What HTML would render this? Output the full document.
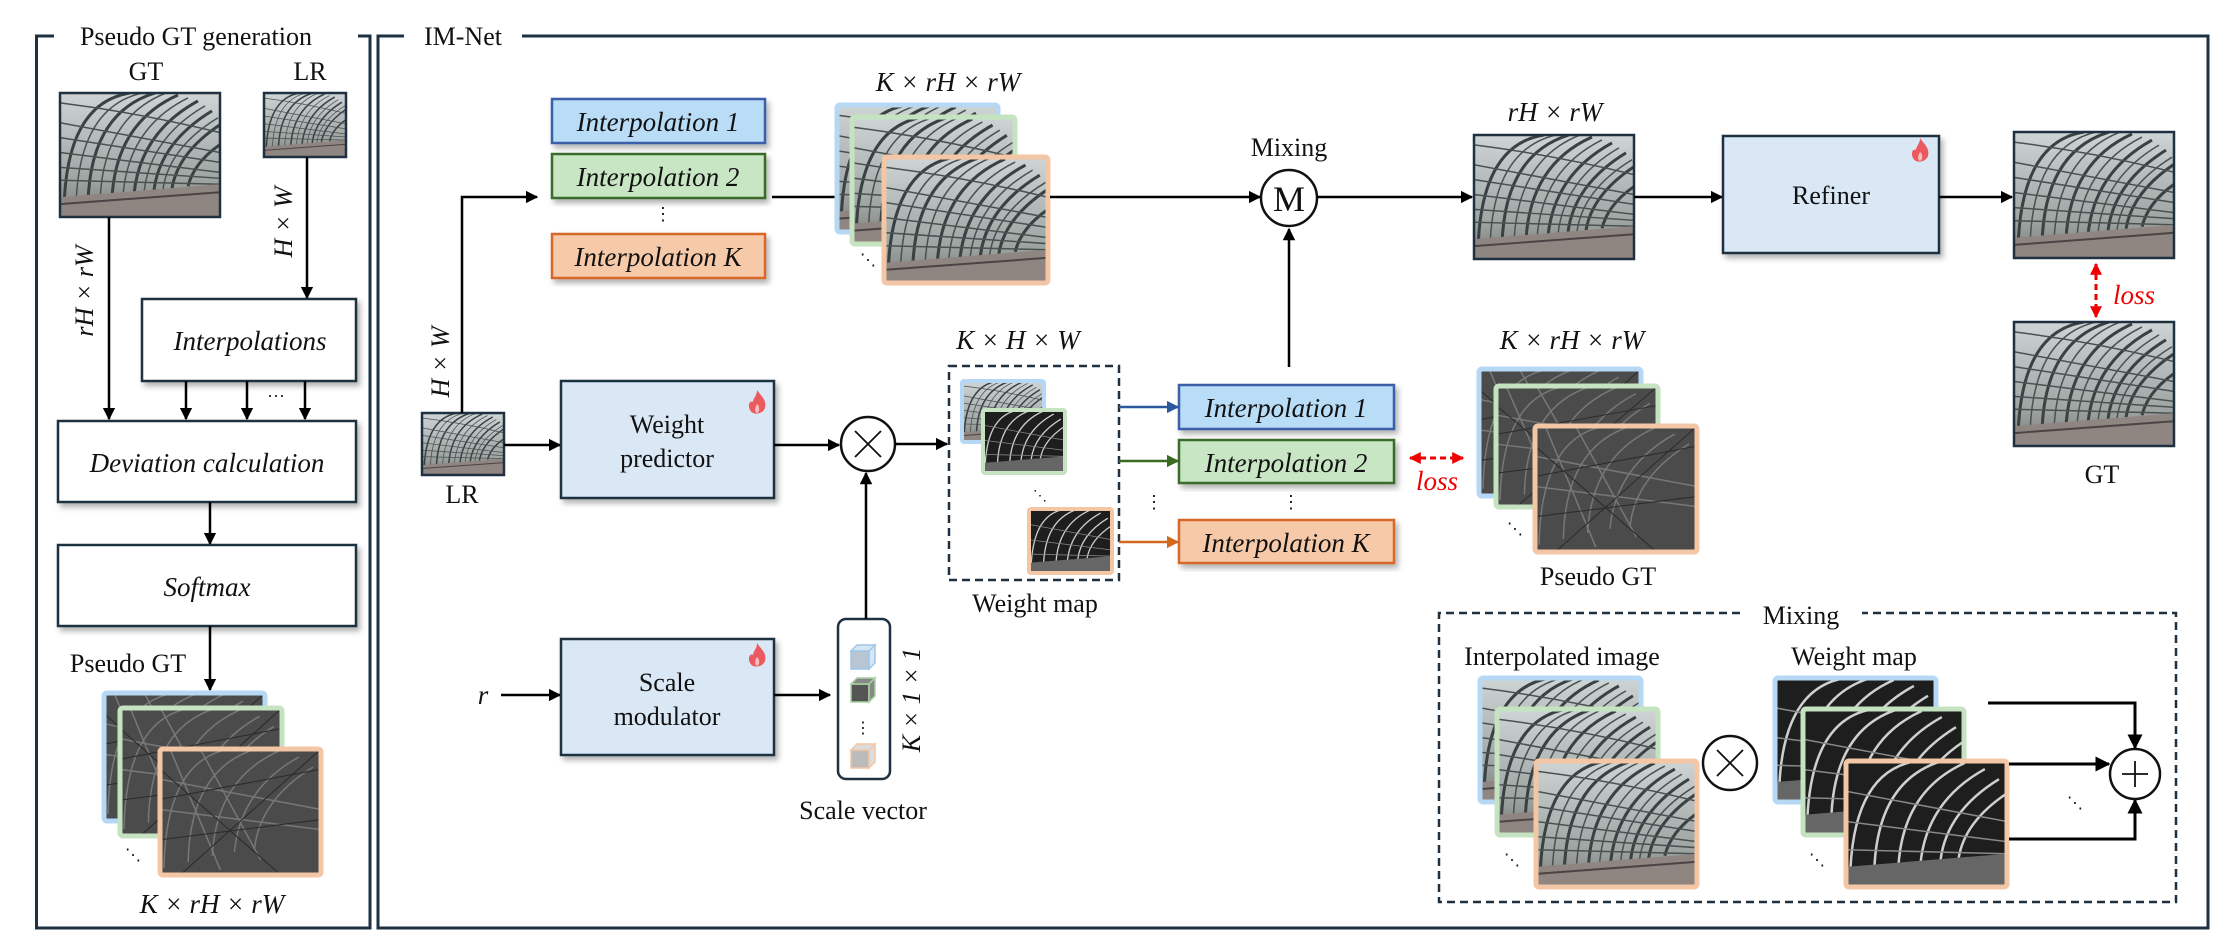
<!DOCTYPE html>
<html><head><meta charset="utf-8"><style>
html,body{margin:0;padding:0;background:#fff}
svg{display:block}
svg text{font-family:"Liberation Serif","Times New Roman","Noto Serif CJK SC",serif;fill:#111}
.it{font-style:italic}
</style></head><body>
<svg width="2225" height="952" viewBox="0 0 2225 952" xmlns="http://www.w3.org/2000/svg">
<defs>
<marker id="ah" viewBox="0 0 10 10" refX="9" refY="5" markerWidth="5" markerHeight="5" orient="auto-start-reverse" markerUnits="strokeWidth"><path d="M0,0 L10,5 L0,10z" fill="#000"/></marker>
<marker id="ahr" viewBox="0 0 10 10" refX="9" refY="5" markerWidth="4" markerHeight="4" orient="auto-start-reverse" markerUnits="strokeWidth"><path d="M0,0 L10,5 L0,10z" fill="#e00"/></marker>
<marker id="ahb" viewBox="0 0 10 10" refX="9" refY="5" markerWidth="5" markerHeight="5" orient="auto" markerUnits="strokeWidth"><path d="M0,0 L10,5 L0,10z" fill="#2d58a0"/></marker>
<marker id="ahg" viewBox="0 0 10 10" refX="9" refY="5" markerWidth="5" markerHeight="5" orient="auto" markerUnits="strokeWidth"><path d="M0,0 L10,5 L0,10z" fill="#3a6b22"/></marker>
<marker id="aho" viewBox="0 0 10 10" refX="9" refY="5" markerWidth="5" markerHeight="5" orient="auto" markerUnits="strokeWidth"><path d="M0,0 L10,5 L0,10z" fill="#d2691e"/></marker>
<linearGradient id="sky" x1="0" y1="0" x2="0" y2="1"><stop offset="0" stop-color="#cfd4d4"/><stop offset="0.7" stop-color="#9ea5a3"/><stop offset="1" stop-color="#7d7b78"/></linearGradient>
<symbol id="photo" viewBox="0 0 160 125" preserveAspectRatio="none">
<rect width="160" height="125" fill="url(#sky)"/>
<g fill="none" stroke="#3a4142" stroke-width="3">
<path d="M4 118 Q6 10 70 0"/><path d="M28 112 Q30 20 95 0"/><path d="M52 106 Q56 30 118 2"/><path d="M74 102 Q80 40 138 8"/><path d="M94 98 Q100 50 152 18"/><path d="M112 96 Q118 60 160 32"/><path d="M128 94 Q134 70 160 52"/>
</g>
<g fill="none" stroke="#4a5151" stroke-width="1.5">
<path d="M16 115 Q18 15 82 0"/><path d="M40 109 Q43 25 106 0"/><path d="M63 104 Q68 35 128 5"/><path d="M84 100 Q90 45 145 13"/><path d="M103 97 Q109 55 158 25"/>
<path d="M0 30 L160 60"/><path d="M0 60 L160 80"/><path d="M0 88 L160 92"/><path d="M0 10 Q80 20 160 40"/><path d="M0 45 L160 70"/><path d="M0 75 L160 86"/>
</g>
<path d="M0 105 L160 92 L160 125 L0 125z" fill="#8f8682"/>
<path d="M0 112 L160 100" stroke="#4a4444" stroke-width="2"/>
</symbol>
<symbol id="pgt" viewBox="0 0 160 125" preserveAspectRatio="none">
<rect width="160" height="125" fill="#4b4b4b"/>
<g fill="none" stroke="#777" stroke-width="1.5">
<path d="M4 118 Q6 10 70 0"/><path d="M28 112 Q30 20 95 0"/><path d="M52 106 Q56 30 118 2"/><path d="M74 102 Q80 40 138 8"/><path d="M94 98 Q100 50 152 18"/><path d="M0 30 L160 60"/><path d="M0 60 L160 80"/><path d="M10 0 L60 120"/><path d="M40 0 L100 110"/>
</g>
<g fill="none" stroke="#2a2a2a" stroke-width="1"><path d="M0 50 L160 20"/><path d="M0 90 L160 70"/><path d="M20 125 L160 0"/><path d="M0 20 L120 125"/></g>
</symbol>
<symbol id="wm" viewBox="0 0 160 125" preserveAspectRatio="none">
<rect width="160" height="125" fill="#1e1e1e"/>
<g fill="none" stroke="#cfcfcf" stroke-width="2.5">
<path d="M4 118 Q6 10 70 0"/><path d="M28 112 Q30 20 95 0"/><path d="M52 106 Q56 30 118 2"/><path d="M74 102 Q80 40 138 8"/><path d="M94 98 Q100 50 152 18"/><path d="M112 96 Q118 60 160 32"/>
</g>
<g fill="none" stroke="#888" stroke-width="1.5"><path d="M0 30 L160 60"/><path d="M0 60 L160 80"/><path d="M0 88 L160 92"/></g>
<path d="M0 105 L160 92 L160 125 L0 125z" fill="#666"/>
</symbol>
<symbol id="flame" viewBox="0 0 20 26"><path d="M10 0 C14 6 20 10 18 18 C16 24 6 26 3 20 C0 14 4 10 6 12 C6 8 10 6 10 0z" fill="#ea5a5f"/><path d="M10 14 C13 16 13 22 10 23 C7 22 8 17 10 14z" fill="#fff" opacity="0.6"/></symbol>
<filter id="sh" x="-10%" y="-10%" width="130%" height="130%"><feDropShadow dx="3" dy="4" stdDeviation="3" flood-color="#000" flood-opacity="0.3"/></filter>
</defs>

<!-- frames -->
<path d="M54 36 L36.5 36 L36.5 928 L370 928 L370 36 L358 36" fill="none" stroke="#1f3140" stroke-width="3"/>
<text x="196" y="45" font-size="26" text-anchor="middle">Pseudo GT generation</text>
<path d="M404 36 L378 36 L378 928 L2208 928 L2208 36 L522 36" fill="none" stroke="#1f3140" stroke-width="3"/>
<text x="463" y="45" font-size="26" text-anchor="middle">IM-Net</text>

<!-- left panel -->
<text x="146" y="80" font-size="26" text-anchor="middle">GT</text>
<text x="310" y="80" font-size="26" text-anchor="middle">LR</text>
<use href="#photo" x="60" y="93" width="160" height="124"/><rect x="60" y="93" width="160" height="124" fill="none" stroke="#1f3140" stroke-width="2.5"/>
<use href="#photo" x="264" y="93" width="82" height="64"/><rect x="264" y="93" width="82" height="64" fill="none" stroke="#1f3140" stroke-width="2.5"/>
<line x1="109" y1="217" x2="109" y2="419" stroke="#000" stroke-width="2.5" marker-end="url(#ah)"/>
<line x1="307" y1="157" x2="307" y2="298" stroke="#000" stroke-width="2.5" marker-end="url(#ah)"/>
<text transform="translate(93 291) rotate(-90)" font-size="26" text-anchor="middle" class="it">rH × rW</text>
<text transform="translate(292 222) rotate(-90)" font-size="26" text-anchor="middle" class="it">H × W</text>
<rect x="142" y="299" width="214" height="82" fill="#fff" stroke="#1f3140" stroke-width="2.5" filter="url(#sh)"/>
<text x="250" y="350" font-size="27" text-anchor="middle" class="it">Interpolations</text>
<line x1="186" y1="381" x2="186" y2="419" stroke="#000" stroke-width="2.5" marker-end="url(#ah)"/>
<line x1="247" y1="381" x2="247" y2="419" stroke="#000" stroke-width="2.5" marker-end="url(#ah)"/>
<line x1="305" y1="381" x2="305" y2="419" stroke="#000" stroke-width="2.5" marker-end="url(#ah)"/>
<text x="276" y="402" font-size="18" text-anchor="middle">···</text>
<rect x="58" y="421" width="298" height="81" fill="#fff" stroke="#1f3140" stroke-width="2.5" filter="url(#sh)"/>
<text x="207" y="472" font-size="27" text-anchor="middle" class="it">Deviation calculation</text>
<line x1="210" y1="502" x2="210" y2="544" stroke="#000" stroke-width="2.5" marker-end="url(#ah)"/>
<rect x="58" y="545" width="298" height="81" fill="#fff" stroke="#1f3140" stroke-width="2.5" filter="url(#sh)"/>
<text x="207" y="596" font-size="27" text-anchor="middle" class="it">Softmax</text>
<line x1="210" y1="626" x2="210" y2="690" stroke="#000" stroke-width="2.5" marker-end="url(#ah)"/>
<text x="128" y="672" font-size="26" text-anchor="middle">Pseudo GT</text>
<use href="#pgt" x="104" y="693" width="161" height="128"/><rect x="104" y="693" width="161" height="128" rx="3" fill="none" stroke="#b7d8f5" stroke-width="5"/>
<use href="#pgt" x="120" y="708" width="162" height="128"/><rect x="120" y="708" width="162" height="128" rx="3" fill="none" stroke="#c5e3c0" stroke-width="5"/>
<use href="#pgt" x="160" y="749" width="161" height="126"/><rect x="160" y="749" width="161" height="126" rx="3" fill="none" stroke="#f3c6a5" stroke-width="5"/>
<text x="133" y="860" font-size="16" text-anchor="middle">⋱</text>
<text x="212" y="913" font-size="27" text-anchor="middle" class="it">K × rH × rW</text>

<!-- IM-Net: top branch -->
<use href="#photo" x="422" y="413" width="82" height="62"/><rect x="422" y="413" width="82" height="62" fill="none" stroke="#1f3140" stroke-width="2.5"/>
<text x="462" y="503" font-size="26" text-anchor="middle">LR</text>
<polyline points="462,413 462,197 537,197" fill="none" stroke="#000" stroke-width="2.5" marker-end="url(#ah)"/>
<text transform="translate(449 362) rotate(-90)" font-size="26" text-anchor="middle" class="it">H × W</text>

<rect x="552" y="99" width="213" height="44" fill="#b9dcf7" stroke="#3b5ea8" stroke-width="2.5" filter="url(#sh)"/>
<text x="658" y="131" font-size="27" text-anchor="middle" class="it">Interpolation 1</text>
<rect x="552" y="154" width="213" height="44" fill="#c8e6c4" stroke="#3b6b2a" stroke-width="2.5" filter="url(#sh)"/>
<text x="658" y="186" font-size="27" text-anchor="middle" class="it">Interpolation 2</text>
<text x="663" y="220" font-size="18" text-anchor="middle">⋮</text>
<rect x="552" y="234" width="213" height="44" fill="#f6c9a9" stroke="#d6682a" stroke-width="2.5" filter="url(#sh)"/>
<text x="658" y="266" font-size="27" text-anchor="middle" class="it">Interpolation K</text>
<line x1="772" y1="197" x2="840" y2="197" stroke="#000" stroke-width="2.5"/>
<text x="948" y="91" font-size="27" text-anchor="middle" class="it">K × rH × rW</text>
<use href="#photo" x="837" y="105" width="161" height="127"/><rect x="837" y="105" width="161" height="127" rx="3" fill="none" stroke="#b7d8f5" stroke-width="5"/>
<use href="#photo" x="852" y="117" width="163" height="127"/><rect x="852" y="117" width="163" height="127" rx="3" fill="none" stroke="#c5e3c0" stroke-width="5"/>
<use href="#photo" x="884" y="157" width="164" height="126"/><rect x="884" y="157" width="164" height="126" rx="3" fill="none" stroke="#f3c6a5" stroke-width="5"/>
<text x="868" y="265" font-size="16" text-anchor="middle">⋱</text>
<line x1="1050" y1="197" x2="1260" y2="197" stroke="#000" stroke-width="2.5" marker-end="url(#ah)"/>
<text x="1289" y="156" font-size="26" text-anchor="middle">Mixing</text>
<circle cx="1289" cy="198" r="28" fill="#fff" stroke="#111" stroke-width="2.5"/>
<text x="1289" y="211" font-size="36" text-anchor="middle">M</text>
<line x1="1317" y1="197" x2="1472" y2="197" stroke="#000" stroke-width="2.5" marker-end="url(#ah)"/>
<text x="1555" y="121" font-size="27" text-anchor="middle" class="it">rH × rW</text>
<use href="#photo" x="1474" y="135" width="160" height="124"/><rect x="1474" y="135" width="160" height="124" fill="none" stroke="#1f3140" stroke-width="2.5"/>
<line x1="1634" y1="197" x2="1722" y2="197" stroke="#000" stroke-width="2.5" marker-end="url(#ah)"/>
<rect x="1723" y="136" width="216" height="117" fill="#dae8f6" stroke="#1f3140" stroke-width="2.5" filter="url(#sh)"/>
<text x="1831" y="204" font-size="26" text-anchor="middle">Refiner</text>
<use href="#flame" x="1910" y="138" width="20" height="26"/>
<line x1="1939" y1="197" x2="2012" y2="197" stroke="#000" stroke-width="2.5" marker-end="url(#ah)"/>
<use href="#photo" x="2014" y="132" width="160" height="126"/><rect x="2014" y="132" width="160" height="126" fill="none" stroke="#1f3140" stroke-width="2.5"/>
<line x1="2096" y1="264" x2="2096" y2="317" stroke="#e00" stroke-width="3" stroke-dasharray="6,4" marker-start="url(#ahr)" marker-end="url(#ahr)"/>
<text x="2134" y="304" font-size="27" text-anchor="middle" class="it" style="fill:#e00">loss</text>
<use href="#photo" x="2014" y="322" width="160" height="124"/><rect x="2014" y="322" width="160" height="124" fill="none" stroke="#1f3140" stroke-width="2.5"/>
<text x="2102" y="483" font-size="26" text-anchor="middle">GT</text>

<!-- middle branch -->
<line x1="504" y1="445" x2="560" y2="445" stroke="#000" stroke-width="2.5" marker-end="url(#ah)"/>
<rect x="561" y="381" width="213" height="117" fill="#dae8f6" stroke="#1f3140" stroke-width="2.5" filter="url(#sh)"/>
<text x="667" y="433" font-size="26" text-anchor="middle">Weight</text>
<text x="667" y="467" font-size="26" text-anchor="middle">predictor</text>
<use href="#flame" x="747" y="390" width="20" height="26"/>
<line x1="774" y1="445" x2="839" y2="445" stroke="#000" stroke-width="2.5" marker-end="url(#ah)"/>
<circle cx="868" cy="444" r="27" fill="#fff" stroke="#111" stroke-width="2.5"/>
<path d="M855 431 L881 457 M881 431 L855 457" stroke="#111" stroke-width="1.8"/>
<line x1="895" y1="444" x2="947" y2="444" stroke="#000" stroke-width="2.5" marker-end="url(#ah)"/>
<text x="1018" y="349" font-size="27" text-anchor="middle" class="it">K × H × W</text>
<rect x="949" y="366" width="170" height="214" fill="none" stroke="#1f3140" stroke-width="2.5" stroke-dasharray="8,5"/>
<use href="#photo" x="962" y="381" width="82" height="61"/><rect x="962" y="381" width="82" height="61" rx="2" fill="none" stroke="#b7d8f5" stroke-width="4"/>
<use href="#wm" x="983" y="410" width="82" height="63"/><rect x="983" y="410" width="82" height="63" rx="2" fill="none" stroke="#c5e3c0" stroke-width="4"/>
<text x="1040" y="500" font-size="14" text-anchor="middle">⋱</text>
<use href="#wm" x="1029" y="509" width="83" height="64"/><rect x="1029" y="509" width="83" height="64" rx="2" fill="none" stroke="#f3c6a5" stroke-width="4"/>
<text x="1035" y="612" font-size="26" text-anchor="middle">Weight map</text>
<line x1="1119" y1="407" x2="1178" y2="407" stroke="#2d58a0" stroke-width="2.5" marker-end="url(#ahb)"/>
<line x1="1119" y1="461" x2="1178" y2="461" stroke="#3a6b22" stroke-width="2.5" marker-end="url(#ahg)"/>
<line x1="1119" y1="542" x2="1178" y2="542" stroke="#d2691e" stroke-width="2.5" marker-end="url(#aho)"/>
<text x="1154" y="508" font-size="18" text-anchor="middle">⋮</text>
<rect x="1179" y="385" width="215" height="44" fill="#b9dcf7" stroke="#3b5ea8" stroke-width="2.5" filter="url(#sh)"/>
<text x="1286" y="417" font-size="27" text-anchor="middle" class="it">Interpolation 1</text>
<rect x="1179" y="440" width="215" height="43" fill="#c8e6c4" stroke="#3b6b2a" stroke-width="2.5" filter="url(#sh)"/>
<text x="1286" y="472" font-size="27" text-anchor="middle" class="it">Interpolation 2</text>
<text x="1291" y="508" font-size="18" text-anchor="middle">⋮</text>
<rect x="1179" y="520" width="215" height="43" fill="#f6c9a9" stroke="#d6682a" stroke-width="2.5" filter="url(#sh)"/>
<text x="1286" y="552" font-size="27" text-anchor="middle" class="it">Interpolation K</text>
<line x1="1289" y1="367" x2="1289" y2="229" stroke="#000" stroke-width="2.5" marker-end="url(#ah)"/>
<line x1="1410" y1="458" x2="1463" y2="458" stroke="#e00" stroke-width="3" stroke-dasharray="6,4" marker-start="url(#ahr)" marker-end="url(#ahr)"/>
<text x="1437" y="490" font-size="27" text-anchor="middle" class="it" style="fill:#e00">loss</text>
<text x="1572" y="349" font-size="27" text-anchor="middle" class="it">K × rH × rW</text>
<use href="#pgt" x="1479" y="369" width="162" height="127"/><rect x="1479" y="369" width="162" height="127" rx="3" fill="none" stroke="#b7d8f5" stroke-width="5"/>
<use href="#pgt" x="1496" y="386" width="162" height="121"/><rect x="1496" y="386" width="162" height="121" rx="3" fill="none" stroke="#c5e3c0" stroke-width="5"/>
<use href="#pgt" x="1535" y="426" width="162" height="126"/><rect x="1535" y="426" width="162" height="126" rx="3" fill="none" stroke="#f3c6a5" stroke-width="5"/>
<text x="1515" y="534" font-size="16" text-anchor="middle">⋱</text>
<text x="1598" y="585" font-size="26" text-anchor="middle">Pseudo GT</text>

<!-- bottom branch -->
<text x="483" y="704" font-size="27" text-anchor="middle" class="it">r</text>
<line x1="501" y1="695" x2="560" y2="695" stroke="#000" stroke-width="2.5" marker-end="url(#ah)"/>
<rect x="561" y="639" width="213" height="116" fill="#dae8f6" stroke="#1f3140" stroke-width="2.5" filter="url(#sh)"/>
<text x="667" y="691" font-size="26" text-anchor="middle">Scale</text>
<text x="667" y="725" font-size="26" text-anchor="middle">modulator</text>
<use href="#flame" x="747" y="643" width="20" height="26"/>
<line x1="774" y1="695" x2="830" y2="695" stroke="#000" stroke-width="2.5" marker-end="url(#ah)"/>
<rect x="838" y="619" width="52" height="160" rx="8" fill="#fff" stroke="#1f3140" stroke-width="2.5"/>
<g stroke-width="1.5">
<path d="M851 651 L869 651 L869 669 L851 669z" fill="#b8c6d4" stroke="#9fc6e8"/><path d="M851 651 L857 645 L875 645 L869 651z M869 651 L875 645 L875 663 L869 669z" fill="#d7e6f3" stroke="#9fc6e8"/>
<path d="M851 684 L869 684 L869 702 L851 702z" fill="#555" stroke="#a8d3a0"/><path d="M851 684 L857 678 L875 678 L869 684z M869 684 L875 678 L875 696 L869 702z" fill="#888" stroke="#a8d3a0"/>
<path d="M851 750 L869 750 L869 768 L851 768z" fill="#bbb" stroke="#f3c6a5"/><path d="M851 750 L857 744 L875 744 L869 750z M869 750 L875 744 L875 762 L869 768z" fill="#ddd" stroke="#f3c6a5"/>
</g>
<text x="863" y="733" font-size="16" text-anchor="middle">⋮</text>
<text transform="translate(920 700) rotate(-90)" font-size="26" text-anchor="middle" class="it">K × 1 × 1</text>
<text x="863" y="819" font-size="26" text-anchor="middle">Scale vector</text>
<line x1="866" y1="619" x2="866" y2="473" stroke="#000" stroke-width="2.5" marker-end="url(#ah)"/>

<!-- Mixing detail -->
<path d="M1740 613 L1439 613 L1439 902 L2176 902 L2176 613 L1862 613" fill="none" stroke="#1f3140" stroke-width="2.5" stroke-dasharray="8,5"/>
<text x="1801" y="624" font-size="26" text-anchor="middle">Mixing</text>
<text x="1562" y="665" font-size="26" text-anchor="middle">Interpolated image</text>
<text x="1854" y="665" font-size="26" text-anchor="middle">Weight map</text>
<use href="#photo" x="1480" y="678" width="161" height="124"/><rect x="1480" y="678" width="161" height="124" rx="3" fill="none" stroke="#b7d8f5" stroke-width="5"/>
<use href="#photo" x="1497" y="709" width="161" height="126"/><rect x="1497" y="709" width="161" height="126" rx="3" fill="none" stroke="#c5e3c0" stroke-width="5"/>
<use href="#photo" x="1536" y="761" width="161" height="126"/><rect x="1536" y="761" width="161" height="126" rx="3" fill="none" stroke="#f3c6a5" stroke-width="5"/>
<text x="1512" y="865" font-size="16" text-anchor="middle">⋱</text>
<circle cx="1730" cy="763" r="27" fill="#fff" stroke="#111" stroke-width="2.5"/>
<path d="M1717 750 L1743 776 M1743 750 L1717 776" stroke="#111" stroke-width="1.8"/>
<use href="#wm" x="1775" y="678" width="161" height="124"/><rect x="1775" y="678" width="161" height="124" rx="3" fill="none" stroke="#b7d8f5" stroke-width="5"/>
<use href="#wm" x="1803" y="709" width="161" height="126"/><rect x="1803" y="709" width="161" height="126" rx="3" fill="none" stroke="#c5e3c0" stroke-width="5"/>
<use href="#wm" x="1846" y="761" width="161" height="126"/><rect x="1846" y="761" width="161" height="126" rx="3" fill="none" stroke="#f3c6a5" stroke-width="5"/>
<text x="1817" y="865" font-size="16" text-anchor="middle">⋱</text>
<polyline points="1988,703 2135,703 2135,748" fill="none" stroke="#000" stroke-width="3" marker-end="url(#ah)"/>
<line x1="2009" y1="764" x2="2109" y2="764" stroke="#000" stroke-width="3" marker-end="url(#ah)"/>
<polyline points="2009,839 2135,839 2135,800" fill="none" stroke="#000" stroke-width="3" marker-end="url(#ah)"/>
<text x="2075" y="808" font-size="16" text-anchor="middle">⋱</text>
<circle cx="2135" cy="774" r="25" fill="#fff" stroke="#111" stroke-width="2.5"/>
<path d="M2122 774 L2148 774 M2135 761 L2135 787" stroke="#111" stroke-width="1.8"/>
</svg>
</body></html>
